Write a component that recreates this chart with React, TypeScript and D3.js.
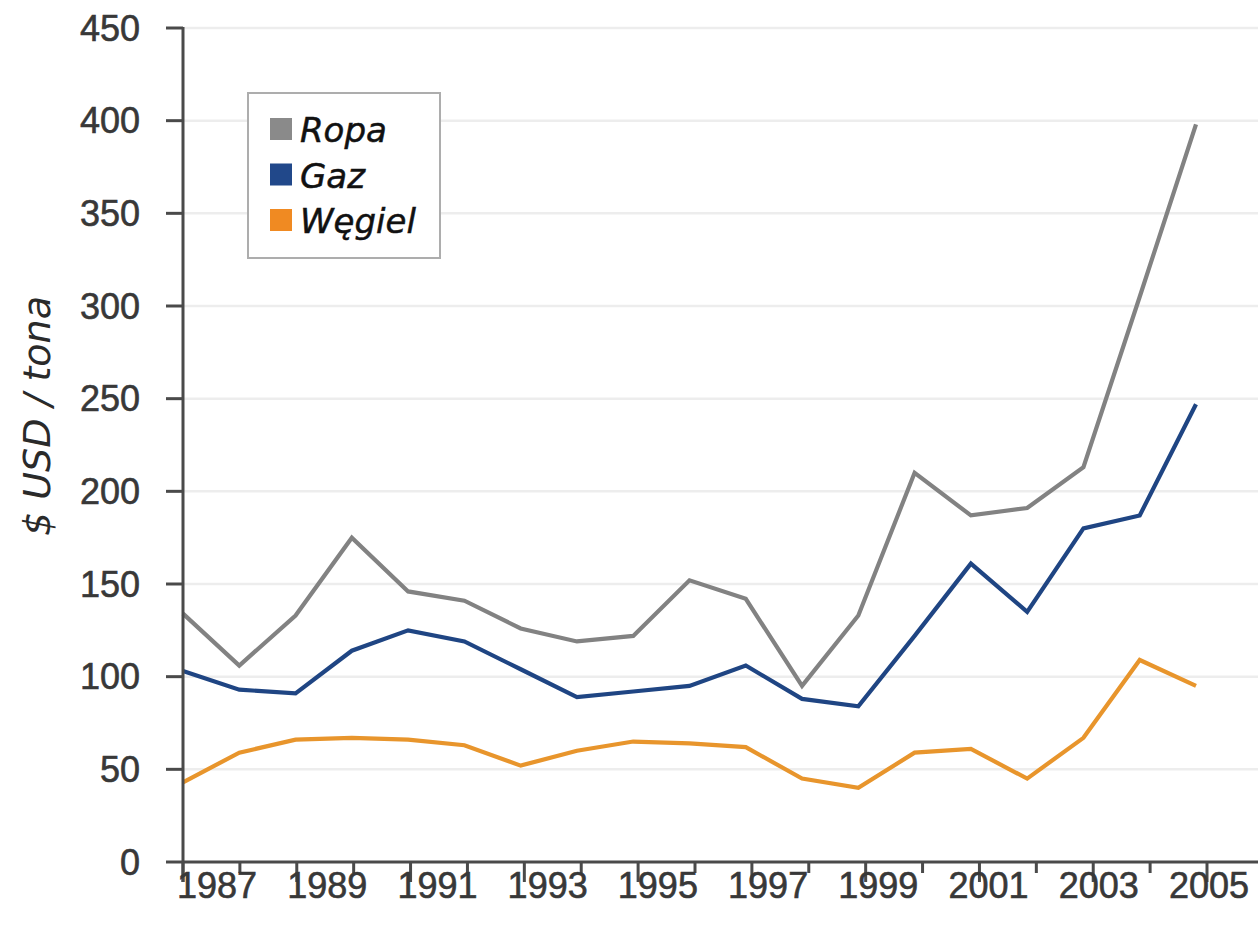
import React from "react";
import * as d3 from "d3";

const years: number[] = [1987, 1988, 1989, 1990, 1991, 1992, 1993, 1994, 1995, 1996, 1997, 1998, 1999, 2000, 2001, 2002, 2003, 2004, 2005];
const ropa: number[] = [134, 106, 133, 175, 146, 141, 126, 119, 122, 152, 142, 95, 133, 210, 187, 191, 213, 305, 398];
const gaz: number[] = [103, 93, 91, 114, 125, 119, 104, 89, 92, 95, 106, 88, 84, 122, 161, 135, 180, 187, 247];
const wegiel: number[] = [43, 59, 66, 67, 66, 63, 52, 60, 65, 64, 62, 45, 40, 59, 61, 45, 67, 109, 95];
const seriesNames: string[] = ["Ropa", "Gaz", "Węgiel"];
const seriesColors: string[] = ["#828282", "#1f4583", "#e8952c"];
const legendColors: string[] = ["#8a8a8a", "#21488a", "#f08a22"];
const yTicks: number[] = [0, 50, 100, 150, 200, 250, 300, 350, 400, 450];
const xLabelYears: number[] = [1987, 1989, 1991, 1993, 1995, 1997, 1999, 2001, 2003, 2005];
const yTitle = "$ USD / tona";

const W = 1258;
const H = 926;
const left = 183;
const bottom = 862;
const top = 28;

export default function App() {
  const y = d3.scaleLinear().domain([0, 450]).range([bottom, top]);
  const xData = d3.scaleLinear().domain([1987, 2005]).range([left, 1196]);
  const xTick = d3.scaleLinear().domain([1987, 2005]).range([left, 1207]);
  const xLabel = d3.scaleLinear().domain([1987, 2005]).range([217, 1209]);

  const allSeries = [ropa, gaz, wegiel];
  const line = d3
    .line<number>()
    .x((_, i) => xData(years[i]))
    .y((v) => y(v))
    .curve(d3.curveLinear);

  const tickFont = "'Liberation Sans', Arial, sans-serif";
  const italFont = "'DejaVu Sans', Verdana, sans-serif";

  return (
    <svg
      width={W}
      height={H}
      style={{ position: "absolute", left: 0, top: 0, background: "#fff" }}
    >
      {/* gridlines */}
      {yTicks.filter((t) => t > 0).map((t) => (
        <line key={"g" + t} x1={left} x2={W} y1={y(t)} y2={y(t)} stroke="#ededed" strokeWidth={2.5} />
      ))}

      {/* series */}
      {allSeries.map((s, i) => (
        <path
          key={seriesNames[i]}
          d={line(s) || ""}
          fill="none"
          stroke={seriesColors[i]}
          strokeWidth={4.2}
          strokeLinejoin="miter"
        />
      ))}

      {/* y axis */}
      <line x1={left} x2={left} y1={top - 1} y2={bottom + 20} stroke="#4a4a4a" strokeWidth={3} />
      {yTicks.map((t) => (
        <g key={"y" + t}>
          <line x1={left - 17} x2={left} y1={y(t)} y2={y(t)} stroke="#4a4a4a" strokeWidth={3} />
          <text
            x={140}
            y={y(t)}
            textAnchor="end"
            dominantBaseline="central"
            fontFamily={tickFont}
            fontSize={36}
            fill="#383838"
            stroke="#383838"
            strokeWidth={0.6}
          >
            {t}
          </text>
        </g>
      ))}

      {/* x axis */}
      <line x1={left} x2={W} y1={bottom} y2={bottom} stroke="#4a4a4a" strokeWidth={3} />
      {years.map((yr) => {
        const major = (yr - 1987) % 2 === 0;
        return (
          <line
            key={"xt" + yr}
            x1={xTick(yr)}
            x2={xTick(yr)}
            y1={bottom}
            y2={bottom + (major ? 20 : 11)}
            stroke="#4a4a4a"
            strokeWidth={3}
          />
        );
      })}
      {xLabelYears.map((yr) => (
        <text
          key={"xl" + yr}
          x={xLabel(yr)}
          y={898}
          textAnchor="middle"
          fontFamily={tickFont}
          fontSize={36}
          fill="#383838"
          stroke="#383838"
          strokeWidth={0.6}
        >
          {yr}
        </text>
      ))}

      {/* y title */}
      <text
        transform={`translate(50, 416) rotate(-90)`}
        textAnchor="middle"
        fontFamily={italFont}
        fontStyle="italic"
        fontSize={38}
        fill="#2a2a2a"
      >
        {yTitle}
      </text>

      {/* legend */}
      <rect x={248} y={93} width={192} height={165} fill="#fff" stroke="#adadad" strokeWidth={2} />
      {seriesNames.map((n, i) => (
        <g key={"lg" + n} transform={`translate(0, ${i * 45.5})`}>
          <rect x={270} y={118} width={22} height={22} fill={legendColors[i]} />
          <text
            x={300}
            y={142}
            fontFamily={italFont}
            fontStyle="italic"
            fontSize={34}
            fill="#111"
            stroke="#111"
            strokeWidth={0.5}
          >
            {n}
          </text>
        </g>
      ))}
    </svg>
  );
}
